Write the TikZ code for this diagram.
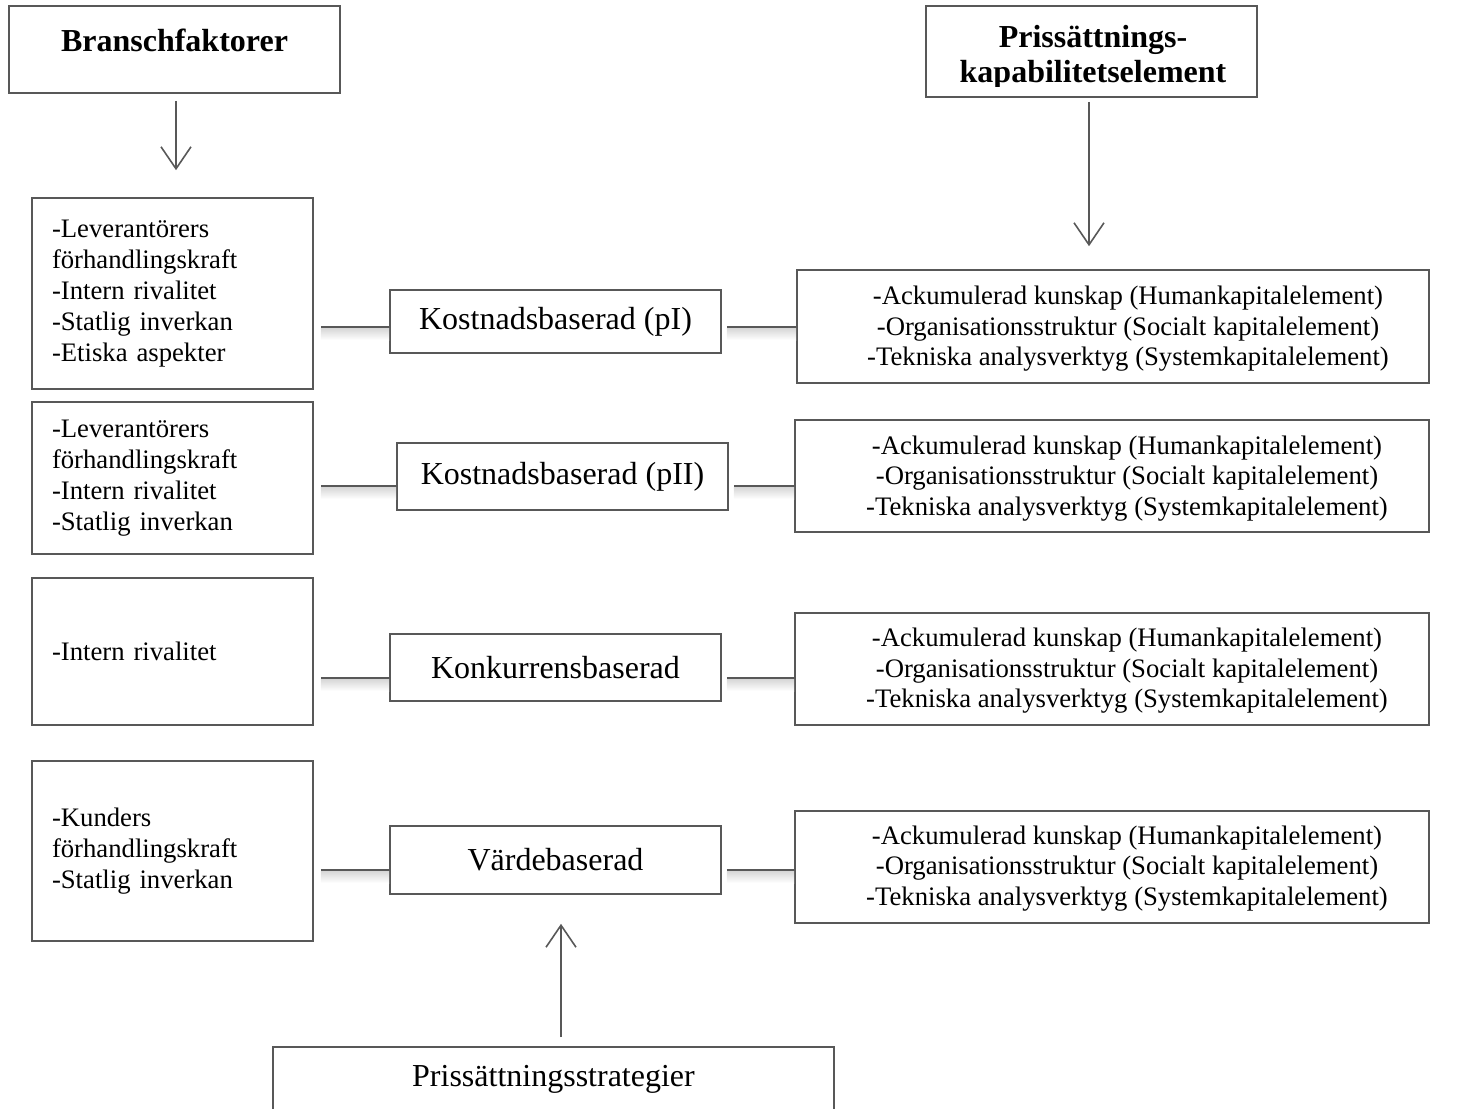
\documentclass[tikz,border=0pt]{standalone}
\usepackage{fontspec}
\setmainfont{Liberation Serif}
\usetikzlibrary{arrows.meta,calc}
\definecolor{ln}{RGB}{88,88,88}
\tikzset{
  box/.style={draw=ln, line width=1.6pt, inner sep=0pt},
  lbox/.style={box, align=left, text width=241pt, inner xsep=20pt, minimum width=281pt,
    font=\fontsize{26.7}{31}\selectfont},
  mbox/.style={box, minimum width=331pt, font=\fontsize{32}{36}\selectfont},
  rbox/.style={box, minimum width=634pt, minimum height=112pt},
  rtext/.style={align=center, inner sep=0pt, font=\fontsize{26.7}{30.6}\selectfont},
  hbox/.style={box, minimum width=331pt},
  htext/.style={inner sep=0pt, font=\bfseries\fontsize{32}{35}\selectfont},
  conn/.style={draw=ln, line width=1.6pt},
  cshadow/.style={top color=black!16, bottom color=white, draw=none},
  arr/.style={draw=ln, line width=1.6pt, -{Straight Barb[length=22pt,width=30pt,line width=1.6pt]}},
}
\begin{document}
\begin{tikzpicture}[x=1pt,y=-1pt]
\useasboundingbox (0,0) rectangle (1463,1108);

% headers
\node[hbox, minimum height=87pt] (BF) at (174.5,49.5) {};
\node[htext, anchor=base] (BFt) at (174.5,52) {Branschfaktorer};
\node[hbox, minimum height=91pt] (PK) at (1091.5,51.5) {};
\begin{scope}
  \clip (926,6) rectangle (1257,86);
  \node[htext, align=center, anchor=north] (PKt) at (1093,25) {Prissättnings-\\kapabilitetselement};
\end{scope}

% left boxes
\node[lbox, minimum height=191pt] (L1) at (172.5,293.5)
  {-Leverantörers\\förhandlingskraft\\-Intern rivalitet\\-Statlig inverkan\\-Etiska aspekter};
\node[lbox, minimum height=152pt] (L2) at (172.5,478)
  {-Leverantörers\\förhandlingskraft\\-Intern rivalitet\\-Statlig inverkan};
\node[lbox, minimum height=147pt] (L3) at (172.5,651.5)
  {-Intern rivalitet};
\node[lbox, minimum height=180pt] (L4) at (172.5,851)
  {-Kunders\\förhandlingskraft\\-Statlig inverkan};

% middle boxes
\node[mbox, minimum height=63pt] (M1) at (555.5,321.5) {Kostnadsbaserad (pI)};
\node[mbox, minimum height=67pt] (M2) at (562.5,476.5) {Kostnadsbaserad (pII)};
\node[mbox, minimum height=67pt] (M3) at (555.5,667.5) {Konkurrensbaserad};
\node[mbox, minimum height=68pt] (M4) at (555.5,860) {Värdebaserad};

% right boxes
\node[rbox, minimum width=632pt, minimum height=113pt] (R1) at (1113,326.5) {};
\node[rbox] (R2) at (1112,476) {};
\node[rbox] (R3) at (1112,669) {};
\node[rbox] (R4) at (1112,867) {};
\node[rtext] (R1t) at (1128,329) {-Ackumulerad kunskap (Humankapitalelement)\\-Organisationsstruktur (Socialt kapitalelement)\\-Tekniska analysverktyg (Systemkapitalelement)};
\node[rtext] (R2t) at (1127,478.5) {-Ackumulerad kunskap (Humankapitalelement)\\-Organisationsstruktur (Socialt kapitalelement)\\-Tekniska analysverktyg (Systemkapitalelement)};
\node[rtext] (R3t) at (1127,671) {-Ackumulerad kunskap (Humankapitalelement)\\-Organisationsstruktur (Socialt kapitalelement)\\-Tekniska analysverktyg (Systemkapitalelement)};
\node[rtext] (R4t) at (1127,868.5) {-Ackumulerad kunskap (Humankapitalelement)\\-Organisationsstruktur (Socialt kapitalelement)\\-Tekniska analysverktyg (Systemkapitalelement)};

% bottom box
\begin{scope}
  \clip (0,0) rectangle (1463,1108);
  \node[box, minimum width=561pt, minimum height=64pt, font=\fontsize{32}{36}\selectfont] (PS) at (553.5,1079) {Prissättningsstrategier};
\end{scope}

% connector rows
\coordinate (r1) at (0,327);
\coordinate (r2) at (0,486);
\coordinate (r3) at (0,678);
\coordinate (r4) at (0,870);

% shadows
\foreach \L/\M/\R/\r in {L1/M1/R1/r1, L2/M2/R2/r2, L3/M3/R3/r3, L4/M4/R4/r4}{
  \path[cshadow] ($(\L.east |- \r)+(7,1)$) rectangle ($(\M.west |- \r)+(0,13)$);
  \path[cshadow] ($(\M.east |- \r)+(5,1)$) rectangle ($(\R.west |- \r)+(0,13)$);
}

% connectors
\foreach \L/\M/\R/\r in {L1/M1/R1/r1, L2/M2/R2/r2, L3/M3/R3/r3, L4/M4/R4/r4}{
  \draw[conn, shorten <=7pt] (\L.east |- \r) -- (\M.west |- \r);
  \draw[conn, shorten <=5pt] (\M.east |- \r) -- (\R.west |- \r);
}

% arrows
\draw[arr, shorten <=7pt, shorten >=27pt] ([xshift=1.5pt]BF.south) -- ([xshift=1.5pt]BF.south |- L1.north);
\draw[arr, shorten <=4pt, shorten >=23pt] ([xshift=-2.5pt]PK.south) -- ([xshift=-2.5pt]PK.south |- R1.north);
\draw[arr, shorten <=9pt, shorten >=29pt] ([xshift=7.5pt]PS.north) -- ([xshift=7.5pt]PS.north |- M4.south);
\end{tikzpicture}
\end{document}
